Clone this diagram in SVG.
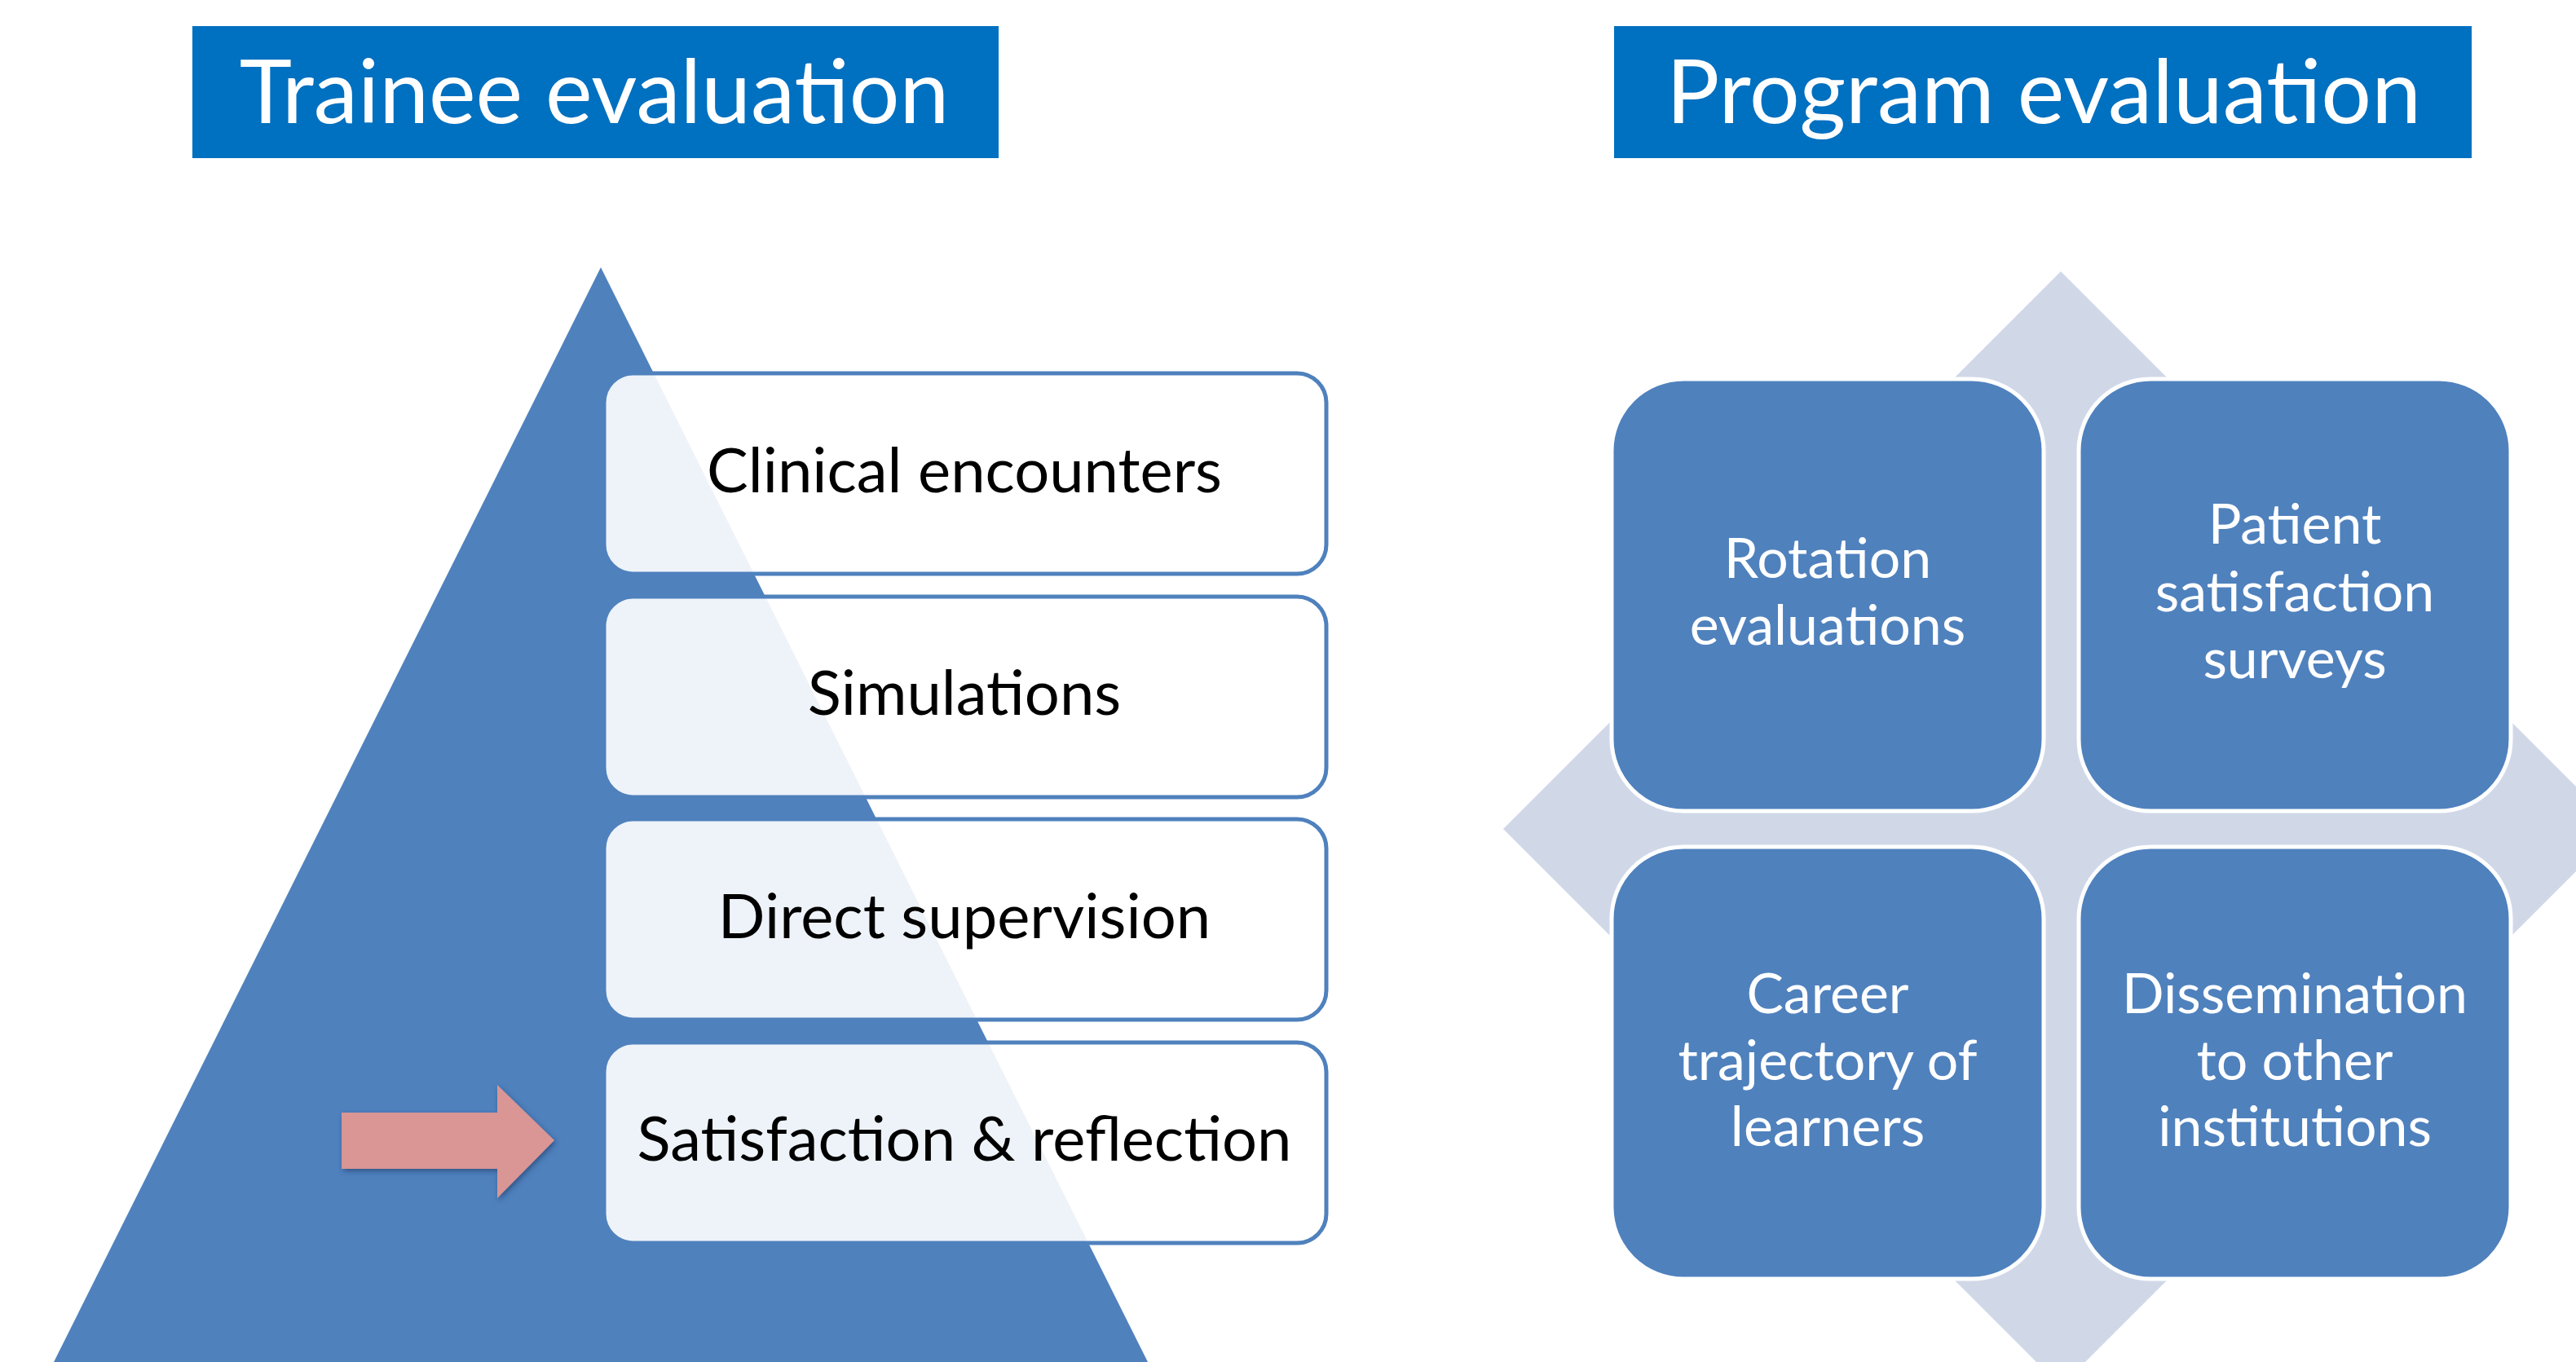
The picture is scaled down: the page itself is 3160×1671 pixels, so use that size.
<svg xmlns="http://www.w3.org/2000/svg" width="3160" height="1671" viewBox="0 0 3160 1671">
<style>
.title{fill:#0070C0}
.ttxt{font-family:Lato,"Open Sans","Liberation Sans",sans-serif;font-size:109px;fill:#ffffff;text-anchor:middle}
.lvl{fill:#ffffff;fill-opacity:0.9;stroke:#4F81BD;stroke-width:5}
.ltxt{font-family:Lato,"Open Sans","Liberation Sans",sans-serif;font-size:76px;fill:#000000;text-anchor:middle}
.quad{fill:#4F81BD;stroke:#ffffff;stroke-width:5}
.qtxt{font-family:Lato,"Open Sans","Liberation Sans",sans-serif;font-size:68px;fill:#ffffff;text-anchor:middle}
</style>
<defs>
<filter id="sh" x="-20%" y="-20%" width="140%" height="140%">
<feDropShadow dx="2" dy="3" stdDeviation="3" flood-color="#1F3864" flood-opacity="0.6"/>
</filter>
</defs>
<rect width="3160" height="1671" fill="#ffffff"/>
<g id="trainee-title">
<rect class="title" x="236" y="32" width="989" height="162"/>
<text class="ttxt" x="729" y="151">Trainee evaluation</text>
</g>
<g id="program-title">
<rect class="title" x="1980" y="32" width="1052" height="162"/>
<text class="ttxt" x="2507" y="151">Program evaluation</text>
</g>
<g id="pyramid">
<polygon points="737,328 66,1671 1408,1671" fill="#4F81BD"/>
</g>
<g id="level-clinical">
<rect class="lvl" x="741" y="458" width="886" height="246" rx="36" ry="36"/>
<text class="ltxt" x="1183" y="604">Clinical encounters</text>
</g>
<g id="level-simulations">
<rect class="lvl" x="741" y="732" width="886" height="246" rx="36" ry="36"/>
<text class="ltxt" x="1183" y="877">Simulations</text>
</g>
<g id="level-direct">
<rect class="lvl" x="741" y="1005" width="886" height="246" rx="36" ry="36"/>
<text class="ltxt" x="1183" y="1151">Direct supervision</text>
</g>
<g id="level-satisfaction">
<rect class="lvl" x="741" y="1279" width="886" height="246" rx="36" ry="36"/>
<text class="ltxt" x="1183" y="1424">Satisfaction &amp; reflection</text>
</g>
<g id="pointer-arrow">
<polygon points="419,1365 610,1365 610,1331 680,1399 610,1470 610,1434 419,1434" fill="#D99694" filter="url(#sh)"/>
</g>
<g id="diamond">
<polygon points="2528,333 3212,1017 2528,1701 1844,1017" fill="#D0D8E8"/>
</g>
<g id="rotation">
<rect class="quad" x="1977" y="465" width="530" height="530" rx="88" ry="88"/>
<text class="qtxt" x="2242" y="709">Rotation</text>
<text class="qtxt" x="2242" y="791">evaluations</text>
</g>
<g id="patient">
<rect class="quad" x="2550" y="465" width="530" height="530" rx="88" ry="88"/>
<text class="qtxt" x="2815" y="667">Patient</text>
<text class="qtxt" x="2815" y="750">satisfaction</text>
<text class="qtxt" x="2815" y="832">surveys</text>
</g>
<g id="career">
<rect class="quad" x="1977" y="1039" width="530" height="530" rx="88" ry="88"/>
<text class="qtxt" x="2242" y="1243">Career</text>
<text class="qtxt" x="2242" y="1325">trajectory of</text>
<text class="qtxt" x="2242" y="1406">learners</text>
</g>
<g id="dissemination">
<rect class="quad" x="2550" y="1039" width="530" height="530" rx="88" ry="88"/>
<text class="qtxt" x="2815" y="1243">Dissemination</text>
<text class="qtxt" x="2815" y="1325">to other</text>
<text class="qtxt" x="2815" y="1406">institutions</text>
</g>
<g id="connectors"></g>
</svg>
